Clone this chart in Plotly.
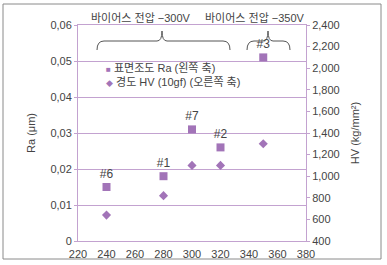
import plotly.graph_objects as go

# Data
bias_v = [240, 280, 300, 320, 350]
sample_labels = ["#6", "#1", "#7", "#2", "#3"]
ra_um = [0.015, 0.018, 0.031, 0.026, 0.051]
hv = [640, 820, 1100, 1100, 1300]
series_names = ["표면조도 Ra (왼쪽 축)", "경도 HV (10gf) (오른쪽 축)"]

left_ticks = [0, 0.01, 0.02, 0.03, 0.04, 0.05, 0.06]
left_ticktext = ["0", "0,01", "0,02", "0,03", "0,04", "0,05", "0,06"]
right_ticks = [400, 600, 800, 1000, 1200, 1400, 1600, 1800, 2000, 2200, 2400]
right_ticktext = ["400", "600", "800", "1,000", "1,200", "1,400", "1,600",
                  "1,800", "2,000", "2,200", "2,400"]
x_ticks = [220, 240, 260, 280, 300, 320, 340, 360, 380]

PURPLE = "#a274b8"
GRID = "#c3a2d0"
TXT = "#444444"
FONT = "Liberation Sans, Noto Sans CJK KR, sans-serif"

fig = go.Figure()
fig.add_trace(go.Scatter(
    x=bias_v, y=ra_um, mode="markers+text", name=series_names[0],
    text=sample_labels, textposition="top center",
    textfont=dict(size=12, color=TXT, family=FONT),
    marker=dict(symbol="square", size=8, color=PURPLE),
    cliponaxis=False, showlegend=False,
))
fig.add_trace(go.Scatter(
    x=bias_v, y=hv, mode="markers", name=series_names[1],
    marker=dict(symbol="diamond", size=7, color=PURPLE),
    yaxis="y2", cliponaxis=False, showlegend=False,
))

W, H = 387, 265
ml, mr, mt, mb = 78, 81, 25, 24

def px_x(p):  # pixel -> paper x
    return (p - ml) / (W - ml - mr)

def px_y(p):  # pixel -> paper y
    return (H - mb - p) / (H - mt - mb)

def brace(x0, xc, x1, yb, yh, yt):
    # all inputs in pixels, converted to paper coordinates
    d = 7
    pts = lambda x, y: f"{px_x(x)},{px_y(y)}"
    return (f"M {pts(x0, yb)} Q {pts(x0, yh)} {pts(x0 + d, yh)} "
            f"L {pts(xc - 5, yh)} Q {pts(xc, yh)} {pts(xc, yt)} "
            f"Q {pts(xc, yh)} {pts(xc + 5, yh)} "
            f"L {pts(x1 - d, yh)} Q {pts(x1, yh)} {pts(x1, yb)}")

shapes = [
    dict(type="path", xref="paper", yref="paper",
         path=brace(97, 162, 230, 50, 41, 31),
         line=dict(color="#555555", width=1)),
    dict(type="path", xref="paper", yref="paper",
         path=brace(247, 268, 290, 50, 41, 31),
         line=dict(color="#555555", width=1)),
    dict(type="rect", xref="paper", yref="paper",
         x0=px_x(3), x1=px_x(381), y0=px_y(259), y1=px_y(4),
         line=dict(color="#8a8a8a", width=1)),
]

legend_rows = [("■", series_names[0], 67, 8), ("◆", series_names[1], 82, 7)]
annotations = [
    dict(text="바이어스 전압 −300V", xref="paper", yref="paper",
         x=px_x(141), y=px_y(18), xanchor="center", yanchor="middle",
         showarrow=False, font=dict(size=11, color=TXT, family=FONT)),
    dict(text="바이어스 전압 −350V", xref="paper", yref="paper",
         x=px_x(255), y=px_y(18), xanchor="center", yanchor="middle",
         showarrow=False, font=dict(size=11, color=TXT, family=FONT)),
]
for sym, name, ypx, sz in legend_rows:
    annotations.append(dict(
        text=f"<span style='color:{PURPLE};font-size:{sz}px'>{sym}</span> {name}",
        xref="paper", yref="paper", x=px_x(104), y=px_y(ypx),
        xanchor="left", yanchor="middle", showarrow=False,
        font=dict(size=11, color=TXT, family=FONT)))

fig.update_layout(
    width=W, height=H,
    margin=dict(l=ml, r=mr, t=mt, b=mb, autoexpand=False),
    paper_bgcolor="white", plot_bgcolor="white",
    font=dict(family=FONT, size=11, color=TXT),
    showlegend=False,
    xaxis=dict(range=[220, 380], tickvals=x_ticks, showgrid=False,
               showline=True, linecolor=GRID, linewidth=1, mirror=True,
               ticks="", zeroline=False, ticklabelstandoff=3, automargin=False,
               tickfont=dict(size=11, color=TXT)),
    yaxis=dict(range=[0, 0.06], tickvals=left_ticks, ticktext=left_ticktext,
               showgrid=True, gridcolor=GRID, gridwidth=1, automargin=False,
               showline=True, linecolor=GRID, linewidth=1, mirror=True,
               ticks="outside", ticklen=3, tickcolor=GRID, zeroline=False,
               title=dict(text="Ra (μm)", standoff=12, font=dict(size=11, color=TXT)),
               tickfont=dict(size=11, color=TXT)),
    yaxis2=dict(range=[400, 2400], tickvals=right_ticks, ticktext=right_ticktext,
                overlaying="y", side="right", showgrid=False, automargin=False,
                ticks="outside", ticklen=3, tickcolor=GRID, zeroline=False,
                title=dict(text="HV (kg/mm²)", standoff=12, font=dict(size=11, color=TXT)),
                tickfont=dict(size=11, color=TXT)),
    shapes=shapes,
    annotations=annotations,
)

fig.write_html("out.html")
